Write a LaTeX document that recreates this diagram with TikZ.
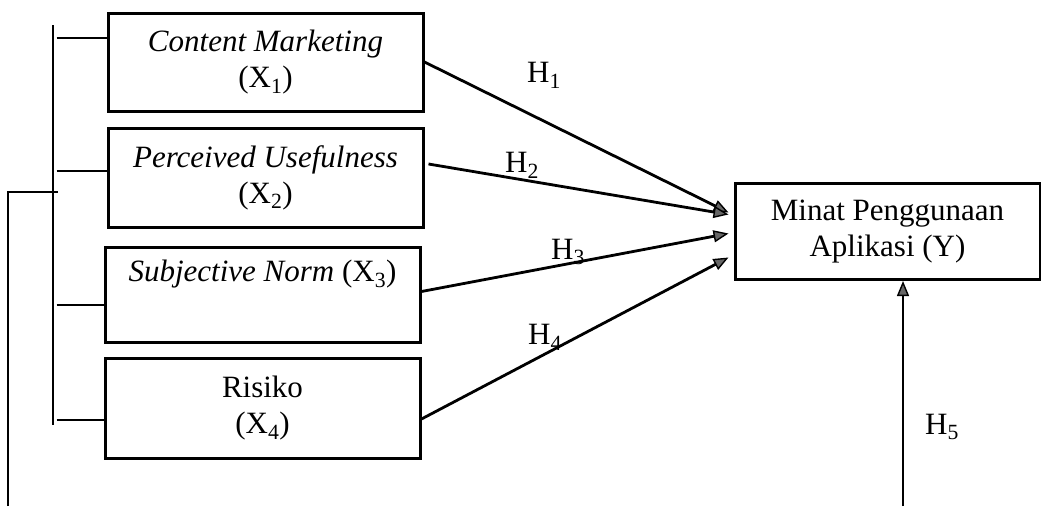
\documentclass[tikz,border=0pt]{standalone}
\usepackage{fontspec}
\setmainfont{Liberation Serif}
\usetikzlibrary{arrows.meta,calc}
\begin{document}
\begin{tikzpicture}[x=1pt,y=-1pt,
  txt/.style={font=\fontsize{31}{36}\selectfont},
  box/.style={txt,draw=black,line width=3pt,align=center,inner sep=0pt,minimum width=315pt},
  lbl/.style={txt,inner sep=0pt},
  conn/.style={line width=2.8pt},
  tick/.style={line width=2pt},
  arr/.style={line width=2.8pt,-{Triangle[length=15pt,width=12pt,fill=black!60,line width=1.4pt]}}
]
\useasboundingbox (0,0) rectangle (1041,506);
% boxes
\node[box,minimum height=98pt] (b1) at (265.5,62) {\textit{Content Marketing}\\(X\textsubscript{1})};
\node[box,minimum height=99pt] (b2) at (265.5,177.5) {\textit{Perceived Usefulness}\\(X\textsubscript{2})};
\node[box,minimum height=95pt] (b3) at (262.5,294.5) {\textit{Subjective Norm} (X\textsubscript{3})\\\strut};
\node[box,minimum height=100pt] (b4) at (262.5,408) {Risiko\\(X\textsubscript{4})};
\node[box,minimum width=305pt,minimum height=96pt] (y) at (887.5,231.5) {Minat Penggunaan\\Aplikasi (Y)};
% bracket
\coordinate (bt) at (53,25);
\coordinate (bb) at (53,425);
\draw[conn] (bt) -- (bb);
\draw[tick] ($(b1.west)+(-50,-24)$) -- ($(b1.west)+(0,-24)$);
\draw[tick] ($(b2.west)+(-50,-6.5)$) -- ($(b2.west)+(0,-6.5)$);
\draw[tick] ($(b3.west)+(-47,10.5)$) -- ($(b3.west)+(0,10.5)$);
\draw[tick] ($(b4.west)+(-47,12)$) -- ($(b4.west)+(0,12)$);
% outer loop
\coordinate (o1) at (8,506);
\coordinate (o2) at (8,192);
\coordinate (o3) at (58,192);
\draw[conn] (o1) -- (o2) -- (o3);
% arrows
\draw[arr] (b1.east) -- ($(y.west)+(-5,-19)$);
\draw[arr] ($(b2.east)+(4,-13.5)$) -- ($(y.west)+(-5,-17)$);
\draw[arr] ($(b3.east)+(0,-3)$) -- ($(y.west)+(-5,2)$);
\draw[arr] ($(b4.east)+(0,11)$) -- ($(y.west)+(-5,26)$);
\coordinate (h5s) at (903,506);
\draw[arr] (h5s) -- (h5s |- y.south);
% labels
\node[lbl] (l1) at (544,75) {H\textsubscript{1}};
\node[lbl] (l2) at (522,165) {H\textsubscript{2}};
\node[lbl] (l3) at (568,252) {H\textsubscript{3}};
\node[lbl] (l4) at (545,337) {H\textsubscript{4}};
\node[lbl] (l5) at (942,427) {H\textsubscript{5}};
\end{tikzpicture}
\end{document}
